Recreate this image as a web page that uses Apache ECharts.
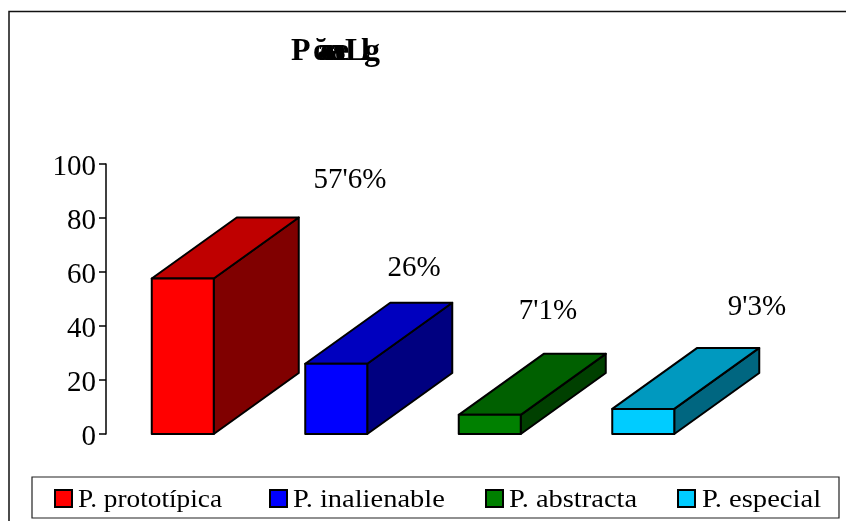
<!DOCTYPE html>
<html><head><meta charset="utf-8">
<style>html,body{margin:0;padding:0;background:#fff}#c{width:846px;height:521px}</style>
<script src="https://cdn.jsdelivr.net/npm/echarts@6/dist/echarts.min.js"></script>
</head><body><div id="c"></div>
<script>
const categories = ['P. prototípica','P. inalienable','P. abstracta','P. especial'];
const values = [57.6, 26, 7.1, 9.3];
const valueLabels = ["57'6%","26%","7'1%","9'3%"];
const frontColors = ['#ff0000','#0000ff','#008000','#00ccff'];
const topColors = ['#bf0000','#0000bf','#006000','#0099bf'];
const sideColors = ['#800000','#000080','#004000','#006680'];
const titlePieces = [['P',291],['ŏ',313],['a',317],['e',320],['s',322],['e',326],['n',325],['s',333],['a',330],['e',335],['L',345],['l',361],['g',364]];
const font = '"Liberation Serif","Times New Roman",serif';
const DX = 85, DY = -61, BAR = 62;
const VALUE_LABEL_X = [350, 414, 548, 757];
const VALUE_LABEL_Y = [180, 268, 311, 307];
const legendX = [55, 270, 486, 678];
const legendTextX = [78, 293, 509, 702];
const legendScale = [1.05, 1.095, 1.095, 1.1];
const chart = echarts.init(document.getElementById('c'), null, {renderer:'canvas'});
function cuboid(params, api){
  const i = params.dataIndex;
  const base = api.coord([api.value(0), 0]);
  const tip = api.coord([api.value(0), api.value(1)]);
  const l = base[0]-BAR/2, r = base[0]+BAR/2, b = base[1], t = tip[1];
  const st = {stroke:'#000', lineWidth:2, lineJoin:'round'};
  const poly = (pts, fill) => ({type:'polygon', shape:{points:pts}, style:Object.assign({fill}, st)});
  return {type:'group', children:[
    poly([[r,b],[r+DX,b+DY],[r+DX,t+DY],[r,t]], sideColors[i]),
    poly([[l,t],[l+DX,t+DY],[r+DX,t+DY],[r,t]], topColors[i]),
    poly([[l,b],[r,b],[r,t],[l,t]], frontColors[i]),
    {type:'text', x:VALUE_LABEL_X[i], y:VALUE_LABEL_Y[i], style:{text:valueLabels[i], font:'29px '+font, fill:'#000', textAlign:'center', textVerticalAlign:'middle'}}
  ]};
}
chart.setOption({
  animation:false,
  backgroundColor:'#fff',
  grid:{left:106,right:126,top:164,bottom:87},
  xAxis:{type:'category',data:categories,axisLine:{show:false},axisTick:{show:false},axisLabel:{show:false},splitLine:{show:false}},
  yAxis:{type:'value',min:0,max:100,interval:20,
    axisLine:{show:true,lineStyle:{color:'#000',width:1.5}},
    axisTick:{show:true,length:7,lineStyle:{color:'#000',width:1.5}},
    axisLabel:{margin:10,formatter:'{n|{value}}',rich:{n:{color:'#000',fontSize:29,fontFamily:font,padding:[6,0,0,0]}}},splitLine:{show:false}},
  series:[{type:'custom',renderItem:cuboid,data:categories.map((c,i)=>[i,values[i]]),encode:{x:0,y:1},clip:false}],
  graphic:[
    {type:'polyline',shape:{points:[[9,521],[9,11.5],[846,11.5]]},style:{stroke:'#111',lineWidth:1.5,fill:null}},
    {type:'rect',shape:{x:32,y:477,width:807,height:41},style:{fill:'#fff',stroke:'#222',lineWidth:1.2}},
    ...titlePieces.map(p=>({type:'text',x:p[1],y:52,style:{text:p[0],font:'bold 32px '+font,fill:'#000',textVerticalAlign:'middle'}})),
    ...categories.flatMap((c,i)=>[
      {type:'rect',shape:{x:legendX[i],y:490,width:17,height:17},style:{fill:frontColors[i],stroke:'#000',lineWidth:2}},
      {type:'text',x:legendTextX[i],y:500,scaleX:legendScale[i],style:{text:c,font:'26px '+font,fill:'#000',textVerticalAlign:'middle'}}
    ])
  ]
});
</script></body></html>
